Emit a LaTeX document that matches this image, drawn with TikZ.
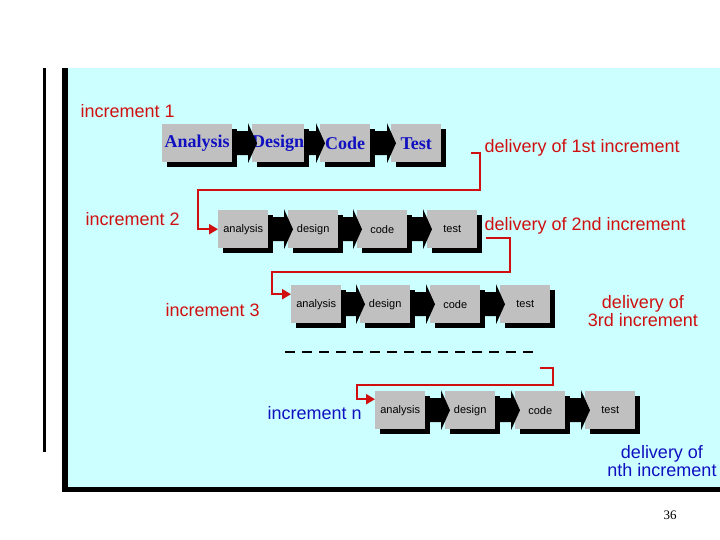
\documentclass[tikz,border=0pt]{standalone}
\usepackage{fontspec}
\setmainfont{Liberation Sans}
\newfontfamily\serifb{Liberation Serif}
\usetikzlibrary{arrows.meta,calc}
\definecolor{panel}{HTML}{CCFFFF}
\definecolor{boxg}{HTML}{C0C0C0}
\definecolor{myred}{HTML}{D01010}
\definecolor{myblue}{HTML}{1010C0}
\tikzset{
 x=1pt,y=-1pt,
 phase/.style={fill=boxg,minimum width=50pt,minimum height=38pt,inner sep=0pt,anchor=north west,font=\fontsize{11}{12}\selectfont,
   preaction={fill=black,transform canvas={xshift=5pt,yshift=-5pt}}},
 bigphase/.style={phase,font=\serifb\bfseries\fontsize{18}{20}\selectfont,text=myblue},
 lab/.style={font=\fontsize{18}{20}\selectfont,text=myred,anchor=west},
 link/.style={draw=myred,line width=2.5pt,-{Triangle[length=9pt,width=10pt]}},
}
\newcommand{\chev}[2]{% from node #1 to node #2
 \fill[black] ($(#1.east)+(0,-12)$) -- ($(#2.west)+(-4,-12)$) -- ($(#2.west)+(-4,-20)$) -- ($(#2.west)+(5,0)$) -- ($(#2.west)+(-4,20)$) -- ($(#2.west)+(-4,12)$) -- ($(#1.east)+(0,12)$) -- cycle;}
\begin{document}
\begin{tikzpicture}
\useasboundingbox (0,0) rectangle (720,540);
\fill[white] (0,0) rectangle (720,540);
\fill[black] (62,68) rectangle (720,492);
\fill[panel] (68,68) rectangle (720,487);
\fill[black] (43,68) rectangle (46,452);
% row 1
\node[bigphase,minimum width=70pt] (a1) at (162,124) {Analysis};
\node[bigphase] (d1) at (252,124) {Design};
\node[bigphase] (c1) at (320,124) {Code};
\node[bigphase] (t1) at (391,124) {Test};
% row 2
\node[phase] (a2) at (218,210) {analysis};
\node[phase] (d2) at (288,210) {design};
\node[phase] (c2) at (357,210) {code};
\node[phase] (t2) at (427,210) {test};
% row 3
\node[phase] (a3) at (291,285) {analysis};
\node[phase] (d3) at (360,285) {design};
\node[phase] (c3) at (430,285) {code};
\node[phase] (t3) at (500,285) {test};
% row n
\node[phase] (an) at (375,391) {analysis};
\node[phase] (dn) at (445,391) {design};
\node[phase] (cn) at (515,391) {code};
\node[phase] (tn) at (585,391) {test};
\foreach \p/\q in {a1/d1,d1/c1,c1/t1,a2/d2,d2/c2,c2/t2,a3/d3,d3/c3,c3/t3,an/dn,dn/cn,cn/tn}{\chev{\p}{\q}}
% labels
\node[lab] (i1) at (77,111) {increment 1};
\node[lab] (i2) at (82,219) {increment 2};
\node[lab] (i3) at (162,310) {increment 3};
\node[lab,text=myblue] (in) at (264,413) {increment n};
\node[lab] (del1) at (481,148) {delivery of 1st increment};
\node[lab] (del2) at (481,226) {delivery of 2nd increment};
\node[font=\fontsize{18}{16}\selectfont,text=myred,align=center] (del3) at (643,311) {delivery of\\3rd increment};
\node[font=\fontsize{18}{18}\selectfont,text=myblue,align=center] (deln) at (662,461) {delivery of\\nth increment};
\node[font=\serifb\fontsize{13}{14}\selectfont] (pg) at (670,515) {36};
% connectors
\coordinate (s1) at (471,153); \coordinate (s2) at (486,238); \coordinate (s3) at (540,368);
\draw[link] (s1) -- (480,153) -- (480,190) -- (198,190) |- (a2.west);
\draw[link] (s2) -- (510,238) -- (510,272) -- (272,272) |- ($(a3.west)+(0,-10)$);
\draw[link] (s3) -- (553,368) -- (553,385) -- (357,385) |- ($(an.west)+(0,-11)$);
\coordinate (dl) at (285,352); \coordinate (dr) at (540,352);
\draw[line width=2pt,dash pattern=on 10pt off 7pt] (dl) -- (dr);
\end{tikzpicture}
\end{document}
